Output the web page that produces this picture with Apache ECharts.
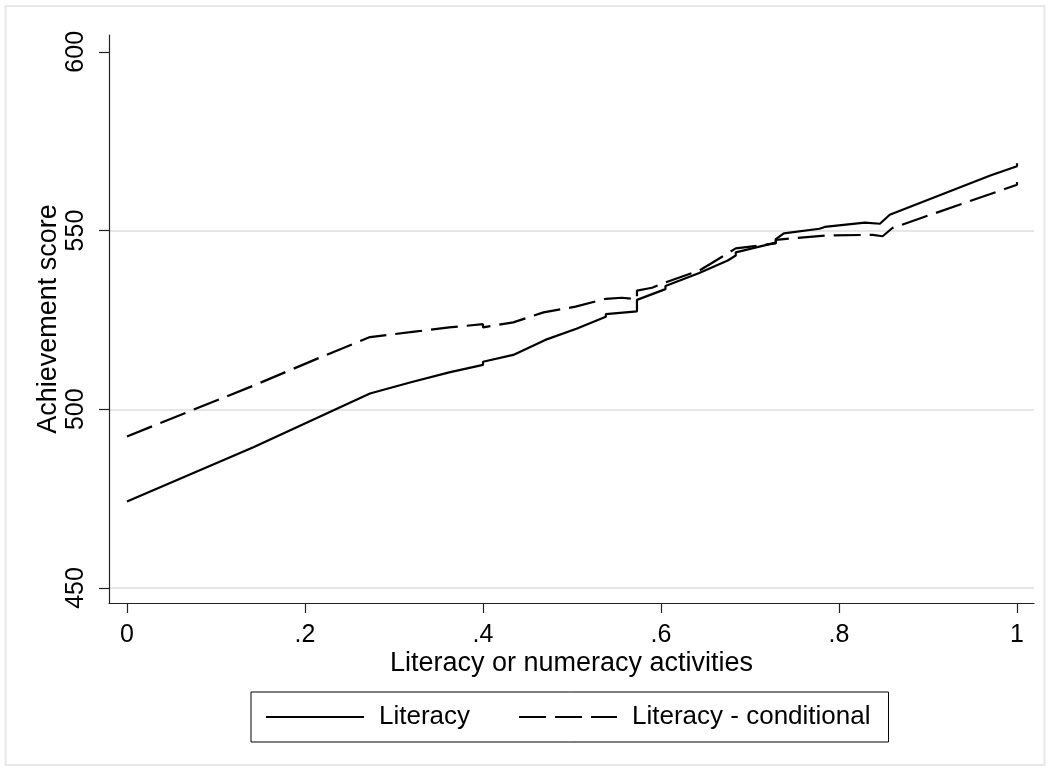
<!DOCTYPE html>
<html>
<head>
<meta charset="utf-8">
<script src="https://cdn.jsdelivr.net/npm/echarts@6/dist/echarts.min.js"></script>
<style>
html,body{margin:0;padding:0;background:#fff;}
#chart{width:1050px;height:771px;}
</style>
</head>
<body>
<div id="chart"></div>
<script>
// ---- data ----
const seriesNames = ['Literacy', 'Literacy - conditional'];
const literacyX = [0, 0.142, 0.273, 0.318, 0.362, 0.400, 0.400, 0.434, 0.470, 0.505, 0.538, 0.538, 0.573, 0.573, 0.605, 0.605, 0.643, 0.675, 0.684, 0.684, 0.729, 0.729, 0.738, 0.778, 0.784, 0.829, 0.846, 0.857, 0.970, 1.0, 1.0];
const literacyY = [474.2, 489.4, 504.4, 507.5, 510.3, 512.4, 513.3, 515.2, 519.4, 522.5, 525.9, 526.6, 527.4, 530.6, 533.6, 534.5, 538.1, 541.6, 543.0, 543.9, 546.6, 547.6, 549.2, 550.5, 551.0, 552.2, 551.9, 554.4, 565.4, 568.0, 568.8];
const condX = [0, 0.142, 0.220, 0.273, 0.323, 0.362, 0.400, 0.400, 0.434, 0.468, 0.504, 0.538, 0.556, 0.573, 0.573, 0.590, 0.605, 0.643, 0.684, 0.729, 0.729, 0.784, 0.838, 0.849, 0.860, 1.0, 1.0];
const condY = [492.4, 506.6, 514.8, 520.2, 521.7, 522.9, 523.8, 522.9, 524.3, 527.1, 528.7, 530.9, 531.2, 530.8, 533.2, 534.0, 535.5, 538.8, 545.0, 546.4, 547.4, 548.6, 548.8, 548.4, 550.7, 562.8, 563.6];
const xTickValues = [0, 0.2, 0.4, 0.6, 0.8, 1];
const xTickLabels = ['0', '.2', '.4', '.6', '.8', '1'];
const yTickValues = [450, 500, 550, 600];
const yTickLabels = ['450', '500', '550', '600'];
const xTitle = 'Literacy or numeracy activities';
const yTitle = 'Achievement score';

const FONT = '"Liberation Sans", Arial, Helvetica, sans-serif';
function zip(xs, ys) { return xs.map((x, i) => [x, ys[i]]); }
function lookup(vals, labels) {
  return function (v) {
    for (let i = 0; i < vals.length; i++) if (Math.abs(vals[i] - v) < 1e-9) return labels[i];
    return '';
  };
}

const chart = echarts.init(document.getElementById('chart'), null, { renderer: 'canvas' });
chart.setOption({
  animation: false,
  backgroundColor: '#ffffff',
  textStyle: { fontFamily: FONT, color: '#000' },
  graphic: [{
    type: 'rect', silent: true, z: -10,
    shape: { x: 5.5, y: 6, width: 1039, height: 759 },
    style: { fill: 'none', stroke: '#e8e8e8', lineWidth: 2 }
  }],
  grid: { left: 109, right: 16, top: 35, bottom: 168, containLabel: false },
  xAxis: {
    type: 'value',
    min: -0.0202, max: 1.0191,
    name: xTitle, nameLocation: 'middle', nameGap: 47, nameMoveOverlap: false,
    nameTextStyle: { fontSize: 27, fontFamily: FONT, color: '#000' },
    axisLine: { show: true, onZero: false, lineStyle: { color: '#222', width: 1.2 } },
    axisTick: { show: true, length: 10, customValues: xTickValues, lineStyle: { color: '#222', width: 1.2 } },
    axisLabel: { customValues: xTickValues, formatter: lookup(xTickValues, xTickLabels), fontSize: 25, margin: 20, color: '#000', fontFamily: FONT },
    splitLine: { show: false }
  },
  yAxis: {
    type: 'value',
    min: 445.8, max: 604.7,
    name: yTitle, nameLocation: 'middle', nameGap: 47, nameMoveOverlap: false,
    nameTextStyle: { fontSize: 27, fontFamily: FONT, color: '#000' },
    axisLine: { show: true, onZero: false, lineStyle: { color: '#222', width: 1.2 } },
    axisTick: { show: true, length: 10, customValues: yTickValues, lineStyle: { color: '#222', width: 1.2 } },
    axisLabel: { customValues: yTickValues, formatter: lookup(yTickValues, yTickLabels), rotate: 90, fontSize: 25, margin: 20, color: '#000', fontFamily: FONT },
    splitLine: { show: true, showMinLine: true, showMaxLine: false, lineStyle: { color: '#e6e6e6', width: 2 } }
  },
  legend: {
    show: true,
    data: seriesNames,
    left: 251, top: 692,
    orient: 'horizontal',
    padding: [12, 18, 12, 14],
    borderColor: '#000', borderWidth: 1,
    itemWidth: 98, itemHeight: 14, itemGap: 48,
    itemStyle: { opacity: 0 },
    textStyle: { fontSize: 26, fontFamily: FONT, color: '#000', padding: [0, 0, 0, 10] }
  },
  series: [
    {
      name: seriesNames[0], type: 'line', data: zip(literacyX, literacyY),
      symbol: 'none', smooth: false,
      lineStyle: { color: '#000', width: 2.2, type: 'solid' },
      itemStyle: { color: '#000' }
    },
    {
      name: seriesNames[1], type: 'line', data: zip(condX, condY),
      symbol: 'none', smooth: false,
      lineStyle: { color: '#000', width: 2.2, type: [27, 9] },
      itemStyle: { color: '#000' }
    }
  ]
});
</script>
</body>
</html>
